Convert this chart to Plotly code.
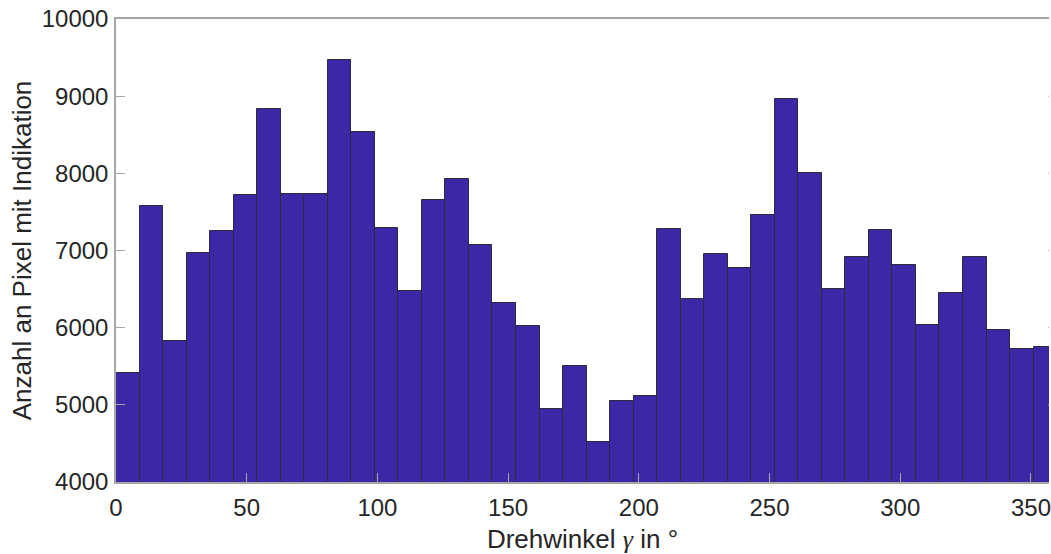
import numpy as np
import plotly.graph_objects as go

# Histogram of rotation angles, 9° bins from 0° to 360°
bin_width = 9
bin_start = 0
counts = [
    5417, 7577, 5832, 6964, 7253, 7723, 8830, 7736, 7728, 9465,
    8536, 7296, 6480, 7650, 7927, 7067, 6324, 6026, 4950, 5507,
    4519, 5054, 5119, 7283, 6372, 6959, 6769, 7456, 8959, 8000,
    6501, 6912, 7262, 6817, 6039, 6445, 6916, 5966, 5724, 5754,
]
x_ticks = [0, 50, 100, 150, 200, 250, 300, 350]
y_ticks = [4000, 5000, 6000, 7000, 8000, 9000, 10000]
y_tick_labels = [str(v) for v in y_ticks]

centers = bin_start + bin_width * (np.arange(len(counts)) + 0.5)

font_family = "Liberation Sans, Arial, sans-serif"
tick_size = 24
title_size = 26
text_color = "#262626"
axis_color = "#a6a6a6"

fig = go.Figure(
    go.Bar(
        x=centers,
        y=counts,
        width=bin_width,
        marker=dict(color="#3c27a6", line=dict(color="#2b2b3a", width=1)),
    )
)

axis_common = dict(
    showgrid=False,
    zeroline=False,
    showline=True,
    linecolor=axis_color,
    linewidth=1.5,
    ticks="inside",
    ticklen=9,
    tickwidth=1,
    tickcolor=axis_color,
    ticklabeloverflow="allow",
    tickfont=dict(family=font_family, size=tick_size, color=text_color),
)

fig.update_xaxes(
    range=[0, 356.9],
    tickmode="array",
    tickvals=x_ticks,
    mirror=True,
    ticklabelstandoff=3,
    title=dict(
        text="Drehwinkel <span style='font-family:Liberation Serif, serif'><i>γ</i></span> in °",
        font=dict(family=font_family, size=title_size, color=text_color),
        standoff=10,
    ),
    **axis_common,
)
fig.update_yaxes(
    range=[4000, 10000],
    tickmode="array",
    tickvals=y_ticks,
    ticktext=y_tick_labels,
    mirror=False,
    ticklabelstandoff=1,
    title=dict(
        text="Anzahl an Pixel mit Indikation",
        font=dict(family=font_family, size=title_size, color=text_color),
        standoff=3,
    ),
    **axis_common,
)

# Inward tick stubs of the (clipped) right-hand axis
for v in y_ticks[1:-1]:
    fig.add_shape(
        type="line",
        xref="paper", yref="y",
        xsizemode="pixel", xanchor=1,
        x0=-1, x1=0, y0=v, y1=v,
        line=dict(color=axis_color, width=1),
    )

fig.update_layout(
    width=1051,
    height=554,
    margin=dict(l=116, r=0, t=19, b=72),
    plot_bgcolor="white",
    paper_bgcolor="white",
    showlegend=False,
    bargap=0,
)

fig.write_html("out.html")
